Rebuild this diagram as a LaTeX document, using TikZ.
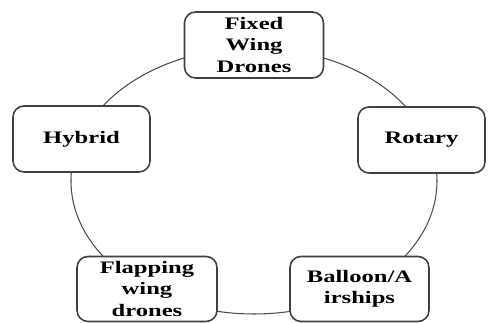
\documentclass[tikz,border=0pt]{standalone}
\usepackage{fontspec}
\setmainfont{Liberation Serif}
\newfontfamily\boxfont{Liberation Serif}[FakeStretch=1.4]
\usepackage{tikz}
\usetikzlibrary{arrows}

\begin{document}
\begin{tikzpicture}[line cap=round,line join=round,x=0.02cm,y=0.02cm,
    dronebox/.style={draw=black!75,line width=0.9pt,fill=white,rounded corners=0.22cm,
        align=center,font=\boxfont\bfseries,inner sep=0pt},
    ring/.style={draw=black!70,line width=0.6pt}]
        \useasboundingbox (0,0) rectangle (488,323);
        % the ring behind the boxes
        \draw [ring] (254,142) ellipse (183 and 133);
        \node [dronebox,minimum width=2.78cm,minimum height=1.32cm] (fixed) at (254,278) {Fixed\\Wing\\Drones};
        \node [dronebox,minimum width=2.74cm,minimum height=1.32cm] (hybrid) at (81.5,184) {Hybrid};
        \node [dronebox,minimum width=2.54cm,minimum height=1.32cm] (rotary) at (421.5,183) {Rotary};
        \node [dronebox,minimum width=2.8cm,minimum height=1.3cm] (flapping) at (147,34) {Flapping\\wing\\drones};
        \node [dronebox,minimum width=2.78cm,minimum height=1.3cm] (balloon) at (359.5,34) {Balloon/A\\irships};
    \end{tikzpicture}
\end{document}
